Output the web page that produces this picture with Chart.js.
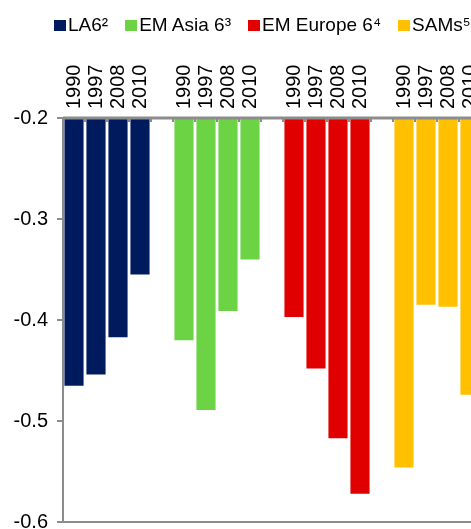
<!DOCTYPE html>
<html>
<head>
<meta charset="utf-8">
<script src="https://cdn.jsdelivr.net/npm/chart.js@4"></script>
<style>
  html, body { margin: 0; padding: 0; background: #fff; }
  #wrap { position: relative; width: 471px; height: 529px; overflow: hidden; }
  #chart { position: absolute; left: 0; top: 0; }
  #legend {
    position: absolute; left: 54px; top: 14px;
    display: flex; align-items: center; white-space: nowrap;
    font-family: 'Liberation Sans', Arial, sans-serif; font-size: 19px; color: #000;
  }
  #legend .item { display: flex; align-items: center; margin-right: 17px; }
  #legend .box { width: 12px; height: 11px; margin-right: 2px; }
</style>
</head>
<body>
<div id="wrap">
  <canvas id="chart" width="520" height="560"></canvas>
  <div id="legend"></div>
</div>
<script>
const years = ['1990', '1997', '2008', '2010'];
const regions = ['LA6²', 'EM Asia 6³', 'EM Europe 6⁴', 'SAMs⁵'];
const colors = ['#001a5e', '#6cd444', '#e00000', '#ffc000'];

const la6 = [-0.465, -0.454, -0.417, -0.355];
const emAsia = [-0.420, -0.489, -0.391, -0.340];
const emEurope = [-0.397, -0.448, -0.517, -0.572];
const sams = [-0.546, -0.385, -0.387, -0.474];

const yTicks = { min: -0.6, max: -0.2, step: 0.1 };

document.addEventListener('DOMContentLoaded', () => {
  const series = [la6, emAsia, emEurope, sams];

  // one blank slot after every group of years
  const slot = years.length + 1;
  const labels = [];
  regions.forEach(() => {
    years.forEach(y => labels.push(y));
    labels.push('');
  });

  const datasets = series.map((values, s) => {
    const data = labels.map(() => null);
    values.forEach((v, i) => { data[s * slot + i] = v; });
    return {
      label: regions[s],
      data,
      base: yTicks.max,
      backgroundColor: colors[s],
      borderWidth: 0,
      grouped: false,
      barPercentage: 0.87,
      categoryPercentage: 1,
    };
  });

  // legend
  const legend = document.getElementById('legend');
  regions.forEach((name, i) => {
    const item = document.createElement('div');
    item.className = 'item';
    const box = document.createElement('span');
    box.className = 'box';
    box.style.background = colors[i];
    const txt = document.createElement('span');
    txt.textContent = name;
    item.appendChild(box);
    item.appendChild(txt);
    legend.appendChild(item);
  });

  const axisGray = '#8c8c8c';
  const font = { family: "'Liberation Sans', Arial, sans-serif", size: 20 };

  // short stubs hanging under the category axis
  const categoryStubs = {
    id: 'categoryStubs',
    afterDatasetsDraw(chart) {
      const x = chart.scales.x;
      const top = chart.chartArea.top;
      const w = x.getPixelForValue(1) - x.getPixelForValue(0);
      const ctx = chart.ctx;
      ctx.save();
      ctx.strokeStyle = axisGray;
      ctx.lineWidth = 2;
      for (let i = 0; i <= labels.length; i++) {
        const px = Math.round(x.getPixelForValue(i) - w / 2);
        ctx.beginPath();
        ctx.moveTo(px, top);
        ctx.lineTo(px, top + 4);
        ctx.stroke();
      }
      ctx.beginPath();
      ctx.lineWidth = 3;
      ctx.moveTo(chart.chartArea.left, top);
      ctx.lineTo(chart.chartArea.right, top);
      ctx.stroke();
      ctx.restore();
    }
  };

  new Chart(document.getElementById('chart'), {
    type: 'bar',
    data: { labels, datasets },
    plugins: [categoryStubs],
    options: {
      responsive: false,
      animation: false,
      layout: { padding: { top: 40, left: 0, right: 17, bottom: 38 } },
      plugins: { legend: { display: false }, tooltip: { enabled: false } },
      scales: {
        x: {
          position: 'top',
          afterFit: (scale) => { scale.height = 78; },
          grid: { display: false },
          border: { display: false },
          ticks: {
            autoSkip: false,
            minRotation: 90,
            maxRotation: 90,
            padding: 1,
            labelOffset: 24,
            color: '#000',
            font,
          },
        },
        y: {
          min: yTicks.min,
          max: yTicks.max,
          afterFit: (scale) => { scale.width = 63; },
          grid: {
            drawOnChartArea: true,
            color: (ctx) => (ctx.index === 0 ? axisGray : 'rgba(0,0,0,0)'),
            lineWidth: 2,
            tickColor: axisGray,
            tickLength: 6,
          },
          border: { color: axisGray, width: 2 },
          ticks: {
            stepSize: yTicks.step,
            padding: 9,
            color: '#000',
            font,
            callback: (v) => v.toFixed(1),
          },
        },
      },
    },
  });
});
</script>
</body>
</html>
